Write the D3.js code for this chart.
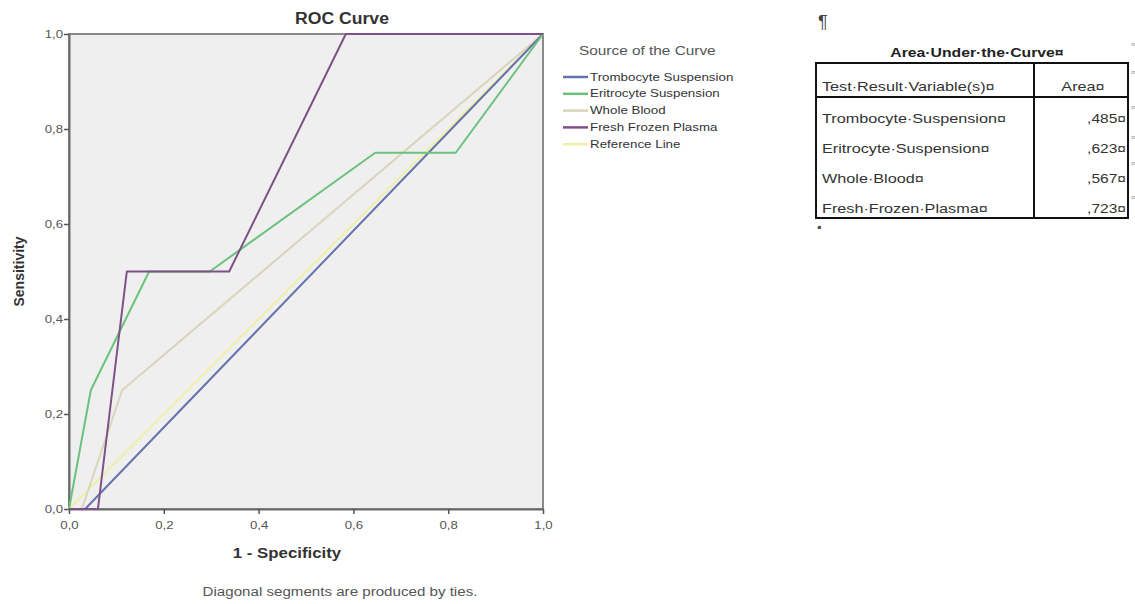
<!DOCTYPE html>
<html>
<head>
<meta charset="utf-8">
<script src="https://cdn.jsdelivr.net/npm/d3@7"></script>
<style>
  body { margin: 0; background: #fff; }
  svg { display: block; font-family: "Liberation Sans", Arial, sans-serif; }
</style>
</head>
<body>
<svg></svg>
<script>
// Series names and colours (legend order)
var seriesNames = ["Trombocyte Suspension", "Eritrocyte Suspension", "Whole Blood",
                   "Fresh Frozen Plasma", "Reference Line"]
var seriesColors = ["#6672ab", "#6cc27c", "#d9d5bb", "#7e5186", "#eef0a8"]

// ROC points: 1 - specificity / sensitivity
var trombocyteX = [0, 0.034, 1]
var trombocyteY = [0, 0, 1]
var eritrocyteX = [0, 0.046, 0.169, 0.297, 0.646, 0.816, 1]
var eritrocyteY = [0, 0.25, 0.5, 0.5, 0.75, 0.75, 1]
var wholeBloodX = [0, 0.027, 0.112, 1]
var wholeBloodY = [0, 0, 0.25, 1]
var plasmaX = [0, 0.061, 0.122, 0.338, 0.584, 1]
var plasmaY = [0, 0, 0.5, 0.5, 1, 1]
var referenceX = [0, 1]
var referenceY = [0, 1]

// Area under the curve table
var aucNames = ["Trombocyte·Suspension¤", "Eritrocyte·Suspension¤", "Whole·Blood¤", "Fresh·Frozen·Plasma¤"]
var aucValues = [",485¤", ",623¤", ",567¤", ",723¤"]

var axisTicks = [0, 0.2, 0.4, 0.6, 0.8, 1.0]

var width = 1135,
    height = 604

var svg = d3.select("svg")
    .attr("width", width)
    .attr("height", height)

// The source image is a bit wider than tall, so text looks stretched sideways
function stretch(sel, k) {
    sel.each(function() {
        var w = this.getComputedTextLength()
        d3.select(this)
            .attr("textLength", w * k)
            .attr("lengthAdjust", "spacingAndGlyphs")
    })
}

var x = d3.scaleLinear().domain([0, 1]).range([69, 543])
var y = d3.scaleLinear().domain([0, 1]).range([509, 34])

var commaFmt = function(d) { return d3.format(".1f")(d).replace(".", ",") }

// Plot background
svg.append("rect")
    .attr("x", x(0)).attr("y", y(1))
    .attr("width", x(1) - x(0)).attr("height", y(0) - y(1))
    .style("fill", "#efefef")
    .style("stroke", "#8a8a8a")
    .style("stroke-width", 2)

// Axes
var xAxis = svg.append("g")
    .attr("transform", "translate(0," + y(0) + ")")
    .call(d3.axisBottom(x).tickValues(axisTicks).tickFormat(commaFmt).tickSize(5).tickSizeOuter(0))
var yAxis = svg.append("g")
    .attr("transform", "translate(" + x(0) + ",0)")
    .call(d3.axisLeft(y).tickValues(axisTicks).tickFormat(commaFmt).tickSize(5).tickSizeOuter(0))

;[xAxis, yAxis].forEach(function(a) {
    a.select(".domain").style("stroke", "#6a6a6a").style("stroke-width", 2)
    a.selectAll(".tick line").style("stroke", "#555").style("stroke-width", 1.5)
    a.selectAll(".tick text").style("font-size", "11px").style("fill", "#555")
    stretch(a.selectAll(".tick text"), 1.2)
})
xAxis.selectAll(".tick text").attr("dy", "1.1em")
yAxis.selectAll(".tick text").attr("x", -6)

// Curves
var curves = [
    {x: trombocyteX, y: trombocyteY},
    {x: eritrocyteX, y: eritrocyteY},
    {x: wholeBloodX, y: wholeBloodY},
    {x: plasmaX, y: plasmaY},
    {x: referenceX, y: referenceY}
]
var line = d3.line()
    .x(function(d) { return x(d[0]) })
    .y(function(d) { return y(d[1]) })

// draw reference and pale curves first, purple on top
var drawOrder = [4, 2, 0, 1, 3]
drawOrder.forEach(function(i) {
    var pts = curves[i].x.map(function(v, j) { return [v, curves[i].y[j]] })
    svg.append("path")
        .attr("d", line(pts))
        .style("fill", "none")
        .style("stroke", seriesColors[i])
        .style("stroke-width", 2)
        .style("stroke-linejoin", "round")
})

// Titles
svg.append("text")
    .attr("x", 342).attr("y", 24)
    .attr("text-anchor", "middle")
    .style("font-size", "16px").style("font-weight", "bold").style("fill", "#333")
    .text("ROC Curve")
    .call(stretch, 1.1)

svg.append("text")
    .attr("transform", "translate(24," + (y(0.5)) + ") rotate(-90)")
    .attr("text-anchor", "middle")
    .style("font-size", "14px").style("font-weight", "bold").style("fill", "#333")
    .text("Sensitivity")

svg.append("text")
    .attr("x", 287).attr("y", 558)
    .attr("text-anchor", "middle")
    .style("font-size", "15px").style("font-weight", "bold").style("fill", "#333")
    .text("1 - Specificity")
    .call(stretch, 1.12)

svg.append("text")
    .attr("x", 340).attr("y", 596)
    .attr("text-anchor", "middle")
    .style("font-size", "12px").style("fill", "#555")
    .text("Diagonal segments are produced by ties.")
    .call(stretch, 1.26)

// Legend
svg.append("text")
    .attr("x", 579).attr("y", 55)
    .style("font-size", "12px").style("fill", "#555")
    .text("Source of the Curve")
    .call(stretch, 1.28)

var legend = svg.append("g").selectAll("g")
    .data(seriesNames)
    .enter().append("g")
    .attr("transform", function(d, i) { return "translate(563," + (77 + i * 16.8) + ")" })

legend.append("line")
    .attr("x1", 0).attr("x2", 25)
    .style("stroke", function(d, i) { return seriesColors[i] })
    .style("stroke-width", 2.5)

legend.append("text")
    .attr("x", 27).attr("dy", "0.35em")
    .style("font-size", "10.5px").style("fill", "#333")
    .text(function(d) { return d })
    .call(stretch, 1.27)

// Area under the curve table
var tbl = svg.append("g")
var tLeft = 816, tRight = 1128, tDiv = 1034, tTop = 63, tHead = 97, tBottom = 218

tbl.append("text")
    .attr("x", 818).attr("y", 28)
    .style("font-size", "18px").style("fill", "#444")
    .text("¶")

tbl.append("text")
    .attr("x", 977).attr("y", 57)
    .attr("text-anchor", "middle")
    .style("font-size", "12.5px").style("font-weight", "bold").style("fill", "#222")
    .text("Area·Under·the·Curve¤")
    .call(stretch, 1.26)

tbl.append("rect")
    .attr("x", tLeft).attr("y", tTop)
    .attr("width", tRight - tLeft).attr("height", tBottom - tTop)
    .style("fill", "none").style("stroke", "#111").style("stroke-width", 2)
tbl.append("line")
    .attr("x1", tLeft).attr("x2", tRight).attr("y1", tHead).attr("y2", tHead)
    .style("stroke", "#111").style("stroke-width", 2)
tbl.append("line")
    .attr("x1", tDiv).attr("x2", tDiv).attr("y1", tTop).attr("y2", tBottom)
    .style("stroke", "#111").style("stroke-width", 2)

tbl.append("text")
    .attr("x", 822).attr("y", 91)
    .style("font-size", "13.5px").style("fill", "#333")
    .text("Test·Result·Variable(s)¤")
    .call(stretch, 1.2)
tbl.append("text")
    .attr("x", 1083).attr("y", 91)
    .attr("text-anchor", "middle")
    .style("font-size", "13.5px").style("fill", "#333")
    .text("Area¤")
    .call(stretch, 1.2)

var rowY = d3.scalePoint().domain(aucNames).range([123, 213])
tbl.selectAll(".rname")
    .data(aucNames)
    .enter().append("text")
    .attr("x", 822).attr("y", function(d) { return rowY(d) })
    .style("font-size", "13.5px").style("fill", "#333")
    .text(function(d) { return d })
    .call(stretch, 1.2)
tbl.selectAll(".rval")
    .data(aucValues)
    .enter().append("text")
    .attr("x", 1126).attr("y", function(d, i) { return rowY(aucNames[i]) })
    .attr("text-anchor", "end")
    .style("font-size", "13.5px").style("fill", "#333")
    .text(function(d) { return d })
    .call(stretch, 1.15)

// stray paragraph marks cut at the right edge of the page
tbl.selectAll(".edge")
    .data([44, 72, 107, 137, 163, 197])
    .enter().append("text")
    .attr("x", 1131).attr("y", function(d) { return d + 3 })
    .style("font-size", "8px").style("fill", "#999")
    .text("¤")

tbl.append("text")
    .attr("x", 817).attr("y", 231)
    .style("font-size", "12px").style("fill", "#444")
    .text("▪")
</script>
</body>
</html>
